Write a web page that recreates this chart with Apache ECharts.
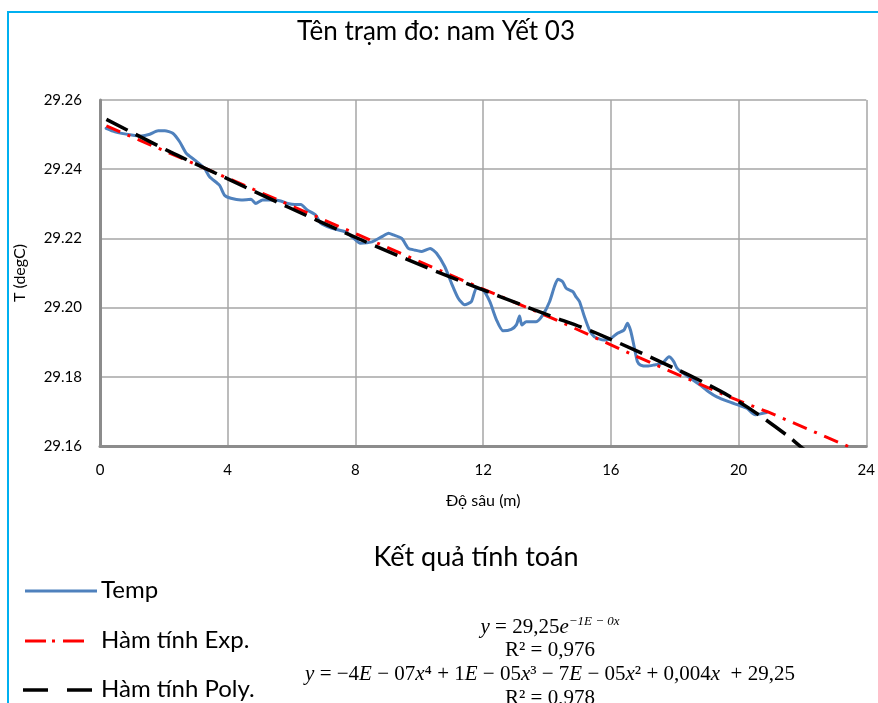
<!DOCTYPE html>
<html><head><meta charset="utf-8">
<script src="https://cdn.jsdelivr.net/npm/echarts@6/dist/echarts.min.js"></script>
<style>html,body{margin:0;padding:0;background:#fff}#c{width:878px;height:703px}</style>
</head><body><div id="c"></div>
<script>
// ---- data ----
const depth = [0.19,0.47,0.99,1.30,1.56,1.82,2.03,2.28,2.49,2.70,2.96,3.27,3.43,3.74,3.90,4.10,4.42,4.73,4.88,5.09,5.45,5.66,5.92,6.10,6.29,6.49,6.75,6.91,7.27,7.69,7.95,8.15,8.52,8.83,9.04,9.19,9.45,9.66,9.87,10.08,10.34,10.54,10.80,11.01,11.22,11.42,11.63,11.79,12.00,12.21,12.42,12.62,12.88,13.04,13.14,13.21,13.35,13.66,13.87,14.08,14.23,14.34,14.49,14.60,14.81,14.91,15.02,15.17,15.33,15.48,15.79,16.00,16.21,16.41,16.52,16.62,16.73,16.83,16.93,17.14,17.35,17.61,17.82,17.97,18.07,18.23,18.49,18.80,19.06,19.32,19.69,20.00,20.26,20.52,20.73,20.88];
const temp = [29.2518,29.2508,29.2499,29.2496,29.2501,29.2511,29.2511,29.2504,29.2480,29.2446,29.2427,29.2403,29.2378,29.2354,29.2325,29.2316,29.2311,29.2313,29.2301,29.2311,29.2311,29.2308,29.2300,29.2298,29.2298,29.2282,29.2268,29.2244,29.2229,29.2219,29.2200,29.2186,29.2190,29.2205,29.2215,29.2210,29.2200,29.2171,29.2166,29.2162,29.2171,29.2157,29.2118,29.2070,29.2027,29.2008,29.2017,29.2056,29.2050,29.2017,29.1964,29.1933,29.1937,29.1950,29.1976,29.1950,29.1959,29.1959,29.1979,29.2017,29.2060,29.2082,29.2075,29.2056,29.2046,29.2031,29.2017,29.1974,29.1935,29.1916,29.1906,29.1911,29.1926,29.1935,29.1955,29.1933,29.1887,29.1844,29.1834,29.1831,29.1834,29.1839,29.1858,29.1844,29.1825,29.1812,29.1796,29.1776,29.1757,29.1742,29.1728,29.1718,29.1709,29.1690,29.1694,29.1697];

const expDepth = [0.2,3.4,8.1,11.2,14.3,16.7,19.7,20.9,23.2,23.5];
const expTemp  = [29.2525,29.2398,29.2210,29.2085,29.1964,29.1863,29.1742,29.1699,29.1608,29.1596];

const polyDepth = [0.2,2.2,3.7,5.9,7.7,9.6,11.2,13.9,15.5,18.1,19.4,20.3,21.5,22.0,22.4];
const polyTemp  = [29.2544,29.2450,29.2385,29.2290,29.2215,29.2140,29.2080,29.1983,29.1928,29.1820,29.1760,29.1711,29.1632,29.1594,29.1565];

const xTicks = [0,4,8,12,16,20,24];
const yTicks = [29.16,29.18,29.20,29.22,29.24,29.26];

const seriesNames = ['Temp','Hàm tính Exp.','Hàm tính Poly.'];
const chartTitle = 'Tên trạm đo: nam Yết 03';
const resultTitle = 'Kết quả tính toán';
const xName = 'Độ sâu (m)';
const yName = 'T (degC)';

const zip = (a,b) => a.map((v,i)=>[v,b[i]]);
const SANS = 'Lato, "Open Sans", sans-serif';
const SERIF = '"Liberation Serif", "DejaVu Serif", serif';
const FS = 21;

const chart = echarts.init(document.getElementById('c'), null, {renderer:'canvas'});
const option = {
  backgroundColor:'#fff',
  animation:false,
  title:{text:chartTitle,left:431,top:14,textAlign:'center',
    textStyle:{fontFamily:SANS,fontSize:26,fontWeight:'normal',color:'#000'}},
  grid:{left:100,right:8,top:100,bottom:257,containLabel:false},
  xAxis:{type:'value',min:xTicks[0],max:xTicks[xTicks.length-1],interval:xTicks[1]-xTicks[0],
    name:xName,nameLocation:'middle',nameGap:47,
    nameTextStyle:{fontFamily:SANS,fontSize:16,color:'#000'},
    axisLine:{show:true,onZero:false,lineStyle:{color:'#8c8c8c',width:3}},
    axisTick:{show:false},
    axisLabel:{fontFamily:SANS,fontSize:15,color:'#000',margin:17},
    splitLine:{show:true,lineStyle:{color:'#a6a6a6',width:1.5}}},
  yAxis:{type:'value',min:yTicks[0],max:yTicks[yTicks.length-1],interval:0.02,
    name:yName,nameLocation:'middle',nameGap:72,nameRotate:90,
    nameTextStyle:{fontFamily:SANS,fontSize:16,color:'#000'},
    axisLine:{show:true,onZero:false,lineStyle:{color:'#8c8c8c',width:3}},
    axisTick:{show:false},
    axisLabel:{fontFamily:SANS,fontSize:15,color:'#000',margin:18,formatter:v=>v.toFixed(2)},
    splitLine:{show:true,lineStyle:{color:'#a6a6a6',width:1.5}}},
  series:[
    {name:seriesNames[0],type:'line',data:zip(depth,temp),showSymbol:false,symbol:'none',smooth:0.2,
      lineStyle:{color:'#4F81BD',width:3,cap:'round',join:'round'},z:2},
    {name:seriesNames[1],type:'line',data:zip(expDepth,expTemp),showSymbol:false,symbol:'none',
      lineStyle:{color:'#FF0000',width:3,type:[15,8,3,8]},z:3},
    {name:seriesNames[2],type:'line',data:zip(polyDepth,polyTemp),showSymbol:false,symbol:'none',smooth:0.3,
      lineStyle:{color:'#000000',width:3.5,type:[24,9]},z:4}
  ],
  graphic:[
    {type:'polyline',shape:{points:[[8,703],[8,12],[878,12]]},style:{stroke:'#00B0F0',lineWidth:2,fill:null},silent:true},
    {type:'text',x:476,y:557,style:{text:resultTitle,fontFamily:SANS,fontSize:27,fill:'#000',align:'center',verticalAlign:'middle'}},
    {type:'line',shape:{x1:25,y1:591,x2:97,y2:591},style:{stroke:'#4F81BD',lineWidth:3}},
    {type:'text',x:101,y:590,style:{text:seriesNames[0],fontFamily:SANS,fontSize:24,fill:'#000',verticalAlign:'middle'}},
    {type:'line',shape:{x1:25,y1:641,x2:86,y2:641},style:{stroke:'#FF0000',lineWidth:3,lineDash:[21,6,3,8]}},
    {type:'text',x:101,y:640,style:{text:seriesNames[1],fontFamily:SANS,fontSize:24,fill:'#000',verticalAlign:'middle'}},
    {type:'line',shape:{x1:23,y1:690,x2:95,y2:690},style:{stroke:'#000',lineWidth:3.5,lineDash:[25,19]}},
    {type:'text',x:101,y:689,style:{text:seriesNames[2],fontFamily:SANS,fontSize:24,fill:'#000',verticalAlign:'middle'}},
    {type:'text',x:550,y:627,style:{text:'{i|y} = 29,25{i|e}{s|−1E − 0x}',align:'center',verticalAlign:'middle',
      fontFamily:SERIF,fontSize:FS,fill:'#000',
      rich:{i:{fontFamily:SERIF,fontSize:FS,fontStyle:'italic'},s:{fontFamily:SERIF,fontSize:13,fontStyle:'italic',verticalAlign:'top',padding:[0,0,10,0]}}}},
    {type:'text',x:550,y:650,style:{text:'R² = 0,976',align:'center',verticalAlign:'middle',fontFamily:SERIF,fontSize:FS,fill:'#000'}},
    {type:'text',x:550,y:674,style:{text:'{i|y} = −4{i|E} − 07{i|x}⁴ + 1{i|E} − 05{i|x}³ − 7{i|E} − 05{i|x}² + 0,004{i|x}  + 29,25',align:'center',verticalAlign:'middle',
      fontFamily:SERIF,fontSize:FS,fill:'#000',rich:{i:{fontFamily:SERIF,fontSize:FS,fontStyle:'italic'}}}},
    {type:'text',x:550,y:698,style:{text:'R² = 0,978',align:'center',verticalAlign:'middle',fontFamily:SERIF,fontSize:FS,fill:'#000'}}
  ]
};
chart.setOption(option);
</script>
</body></html>
